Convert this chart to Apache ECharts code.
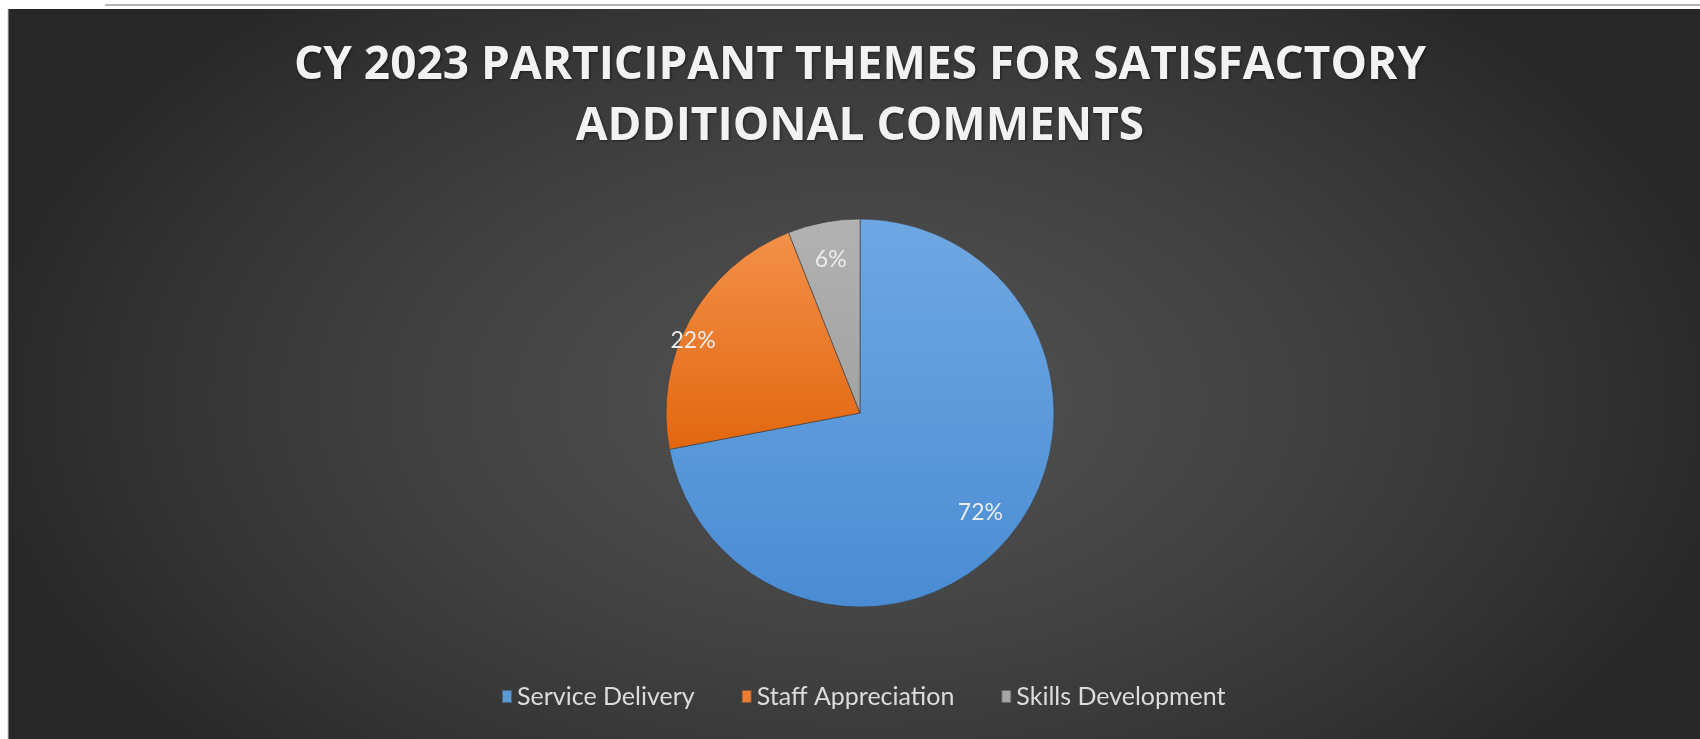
<!DOCTYPE html>
<html>
<head>
<meta charset="utf-8">
<title>CY 2023 Participant Themes for Satisfactory Additional Comments</title>
<script src="https://cdn.jsdelivr.net/npm/echarts@6/dist/echarts.min.js"></script>
<style>
  html, body { margin: 0; padding: 0; background: #ffffff; }
  #chart { width: 1700px; height: 739px; }
</style>
</head>
<body>
<div id="chart"></div>
<script>
// Comment themes and their share of responses (percent)
const themes = ['Service Delivery', 'Staff Appreciation', 'Skills Development'];
const shares = [72, 22, 6];
const titleLines = ['CY 2023 PARTICIPANT THEMES FOR SATISFACTORY', 'ADDITIONAL COMMENTS'];

// Office-style slice fills: lighter at top, deeper toward the bottom
const sliceFills = [
  ['#6ea8e2', '#4a8cd3'],
  ['#f3904a', '#e2670f'],
  ['#b2b2b2', '#a2a2a2']
];
const legendColors = ['#5b9bd5', '#ed7d31', '#a5a5a5'];

const W = 1700, H = 739;
const cx = 860, cy = 413, R = 194;
// labels sit near the outer rim, about 0.79 of the radius
const labelRing = R * 0.79 * 2;

// backdrop: a soft elliptical glow centred behind the pie
const glowX = 860, glowY = 400, glowR = 880, glowSquash = 0.6;

function vGrad(c) {
  return new echarts.graphic.LinearGradient(0, 0, 0, 1, [
    { offset: 0, color: c[0] },
    { offset: 1, color: c[1] }
  ]);
}

const sliceData = themes.map((name, i) => ({
  name: name,
  value: shares[i],
  itemStyle: { color: vGrad(sliceFills[i]) }
}));
const labelData = themes.map((name, i) => ({ name: name, value: shares[i] }));

const chart = echarts.init(document.getElementById('chart'), null, { renderer: 'canvas' });

chart.setOption({
  backgroundColor: '#ffffff',
  animation: false,
  graphic: [
    {
      type: 'rect',
      z: -10,
      x: glowX,
      y: glowY,
      scaleY: glowSquash,
      shape: {
        x: 8 - glowX,
        y: (9 - glowY) / glowSquash,
        width: W - 8,
        height: (H - 9) / glowSquash
      },
      style: {
        fill: new echarts.graphic.RadialGradient(0, 0, glowR, [
          { offset: 0, color: '#4f4f4f' },
          { offset: 0.2, color: '#4c4c4c' },
          { offset: 0.5, color: '#414141' },
          { offset: 0.8, color: '#333333' },
          { offset: 1, color: '#282828' }
        ], true)
      }
    },
    {
      type: 'line',
      z: -9,
      shape: { x1: 8, y1: 9, x2: 8, y2: H },
      style: { stroke: '#c8c8c8', lineWidth: 1 }
    },
    {
      type: 'line',
      z: -9,
      shape: { x1: 105, y1: 5, x2: W, y2: 5 },
      style: { stroke: '#b4b4b4', lineWidth: 2 }
    }
  ],
  title: {
    text: titleLines.join('\n'),
    left: 855,
    textAlign: 'center',
    top: 30,
    textStyle: {
      fontFamily: '"Open Sans", sans-serif',
      fontWeight: 'bold',
      fontSize: 46,
      lineHeight: 61,
      color: '#f2f2f2',
      textShadowColor: 'rgba(0,0,0,0.5)',
      textShadowBlur: 3,
      textShadowOffsetX: 1,
      textShadowOffsetY: 1
    }
  },
  legend: {
    data: themes.map((name, i) => ({ name: name, itemStyle: { color: legendColors[i] } })),
    bottom: 25,
    left: 496,
    icon: 'rect',
    itemWidth: 10,
    itemHeight: 13,
    itemGap: 46,
    textStyle: {
      fontFamily: 'Lato, sans-serif',
      fontSize: 25,
      color: '#dcdcdc'
    }
  },
  series: [
    {
      name: 'Themes',
      type: 'pie',
      center: [cx, cy],
      radius: [0, R],
      startAngle: 90,
      clockwise: true,
      silent: true,
      label: { show: false },
      labelLine: { show: false },
      itemStyle: { borderColor: 'rgba(60,60,60,0.6)', borderWidth: 1 },
      data: sliceData
    },
    {
      name: 'Shares',
      type: 'pie',
      center: [cx, cy],
      radius: [0, labelRing],
      startAngle: 90,
      clockwise: true,
      silent: true,
      itemStyle: { color: 'rgba(0,0,0,0)' },
      label: {
        show: true,
        position: 'inside',
        formatter: '{c}%',
        fontFamily: 'Lato, sans-serif',
        fontSize: 23,
        color: '#ececec'
      },
      // nudge the narrow orange slice's label toward the rim
      labelLayout: function (p) {
        return p.dataIndex === 1 ? { dx: -30, dy: 3 } : {};
      },
      labelLine: { show: false },
      data: labelData
    }
  ]
});
</script>
</body>
</html>
